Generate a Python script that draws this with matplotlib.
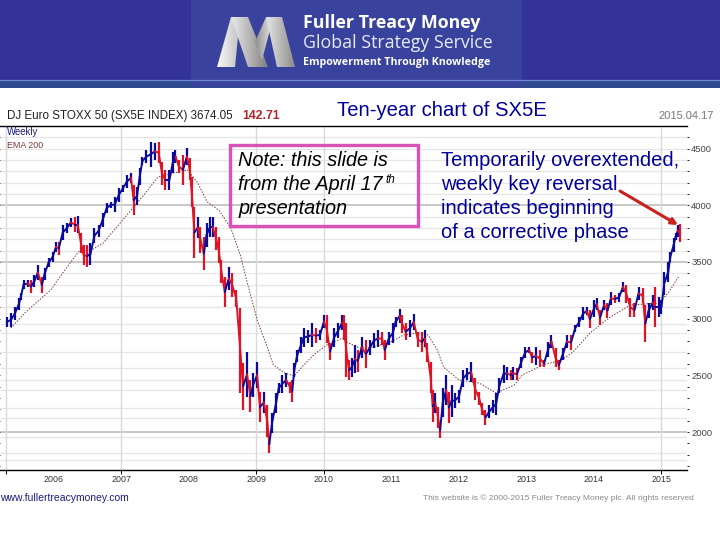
import numpy as np
import matplotlib
matplotlib.use("Agg")
import matplotlib.pyplot as plt
from matplotlib.patches import Polygon, Rectangle

#weekly bars (year, high, low)
bar_years = [2005.30, 2005.36, 2005.42, 2005.48, 2005.51, 2005.55, 2005.61, 2005.66, 2005.71, 2005.76, 2005.82, 2005.86, 2005.92, 2005.98,
    2006.03, 2006.07, 2006.13, 2006.19, 2006.25, 2006.31, 2006.35, 2006.40, 2006.44, 2006.49, 2006.54, 2006.60, 2006.66, 2006.72, 2006.78, 2006.84, 2006.90, 2006.96,
    2007.02, 2007.08, 2007.14, 2007.18, 2007.23, 2007.27, 2007.31, 2007.37, 2007.43, 2007.49, 2007.55, 2007.60, 2007.65, 2007.71, 2007.76, 2007.80, 2007.85, 2007.91, 2007.97,
    2008.01, 2008.04, 2008.08, 2008.13, 2008.17, 2008.22, 2008.26, 2008.31, 2008.35, 2008.40, 2008.44, 2008.48, 2008.53, 2008.59, 2008.64, 2008.70, 2008.76, 2008.80, 2008.86, 2008.91, 2008.95,
    2009.01, 2009.05, 2009.11, 2009.16, 2009.19, 2009.23, 2009.29, 2009.33, 2009.38, 2009.44, 2009.50, 2009.53, 2009.56, 2009.60, 2009.66, 2009.70, 2009.76, 2009.82, 2009.88, 2009.94,
    2010.00, 2010.04, 2010.09, 2010.15, 2010.21, 2010.27, 2010.30, 2010.33, 2010.37, 2010.41, 2010.46, 2010.50, 2010.56, 2010.62, 2010.68, 2010.74, 2010.80, 2010.86, 2010.90, 2010.96,
    2011.02, 2011.06, 2011.12, 2011.16, 2011.21, 2011.27, 2011.33, 2011.39, 2011.45, 2011.49, 2011.53, 2011.58, 2011.61, 2011.65, 2011.69, 2011.72, 2011.76, 2011.81, 2011.85, 2011.89, 2011.94,
    2012.00, 2012.06, 2012.12, 2012.18, 2012.24, 2012.30, 2012.34, 2012.39, 2012.45, 2012.51, 2012.55, 2012.60, 2012.66, 2012.71, 2012.77, 2012.80, 2012.86, 2012.92, 2012.98,
    2013.04, 2013.08, 2013.14, 2013.20, 2013.26, 2013.32, 2013.37, 2013.43, 2013.48, 2013.54, 2013.60, 2013.66, 2013.72, 2013.78, 2013.84, 2013.89, 2013.94,
    2014.00, 2014.04, 2014.09, 2014.15, 2014.20, 2014.25, 2014.31, 2014.37, 2014.43, 2014.48, 2014.54, 2014.60, 2014.66, 2014.72, 2014.76, 2014.81, 2014.87, 2014.91, 2014.96,
    2015.00, 2015.04, 2015.10, 2015.13, 2015.18, 2015.21, 2015.24, 2015.27]
bar_highs = [3014, 3050, 3102, 3182, 3226, 3341, 3341, 3341, 3385, 3473, 3367, 3446, 3535, 3588,
    3676, 3676, 3826, 3843, 3887, 3896, 3905, 3755, 3649, 3649, 3667, 3799, 3826, 3932, 4020, 4029, 4073, 4152,
    4179, 4267, 4284, 4179, 4161, 4328, 4426, 4487, 4558, 4549, 4558, 4381, 4311, 4311, 4470, 4487, 4399, 4443, 4505,
    4417, 4249, 3985, 3896, 3808, 3720, 3843, 3896, 3896, 3808, 3720, 3517, 3367, 3455, 3402, 3252, 3094, 2609, 2706, 2459, 2520,
    2617, 2353, 2353, 2238, 1974, 2168, 2344, 2432, 2503, 2520, 2441, 2459, 2609, 2723, 2838, 2917, 2900, 2961, 2917, 2900,
    3032, 3032, 2785, 2917, 2961, 3032, 3032, 2961, 2635, 2653, 2767, 2723, 2838, 2811, 2811, 2873, 2900, 2882, 2811, 2882,
    2961, 3014, 3085, 3032, 2961, 2988, 3041, 2882, 2882, 2900, 2785, 2617, 2370, 2344, 2220, 2079, 2388, 2503, 2353, 2415, 2344,
    2370, 2547, 2564, 2617, 2476, 2353, 2256, 2194, 2238, 2282, 2344, 2476, 2591, 2573, 2547, 2573, 2564, 2662, 2750,
    2750, 2706, 2750, 2723, 2635, 2794, 2855, 2741, 2635, 2741, 2855, 2855, 2944, 3014, 3102, 3102, 3076,
    3164, 3182, 3076, 3164, 3138, 3235, 3208, 3226, 3323, 3297, 3182, 3138, 3279, 3270, 3120, 3138, 3208, 3279, 3191,
    3164, 3411, 3499, 3588, 3711, 3755, 3826, 3835]
bar_lows = [2926, 2926, 2988, 3076, 3164, 3261, 3279, 3226, 3279, 3341, 3226, 3341, 3455, 3499,
    3588, 3561, 3693, 3755, 3808, 3764, 3755, 3579, 3473, 3455, 3473, 3667, 3720, 3808, 3932, 3976, 3940, 4029,
    4117, 4152, 4196, 3914, 4002, 4179, 4355, 4373, 4337, 4399, 4373, 4179, 4134, 4134, 4284, 4373, 4284, 4179, 4355,
    4223, 3985, 3535, 3711, 3579, 3429, 3632, 3720, 3720, 3605, 3491, 3314, 3103, 3252, 3191, 3103, 2344, 2194, 2309, 2176, 2309,
    2388, 2088, 2168, 1956, 1815, 1991, 2168, 2344, 2344, 2397, 2344, 2265, 2485, 2617, 2697, 2750, 2785, 2750, 2785, 2811,
    2917, 2785, 2635, 2750, 2829, 2900, 2811, 2485, 2459, 2485, 2520, 2529, 2653, 2564, 2679, 2741, 2750, 2767, 2635, 2767,
    2785, 2926, 2961, 2873, 2811, 2838, 2900, 2750, 2706, 2750, 2617, 2344, 2088, 2168, 2035, 1947, 2132, 2238, 2079, 2132, 2212,
    2256, 2397, 2459, 2441, 2282, 2238, 2150, 2062, 2123, 2168, 2150, 2344, 2432, 2459, 2459, 2459, 2459, 2564, 2653,
    2697, 2609, 2591, 2573, 2573, 2662, 2741, 2573, 2547, 2635, 2741, 2723, 2882, 2926, 2988, 3032, 2917,
    3014, 3076, 2944, 3076, 3005, 3120, 3138, 3147, 3235, 3138, 3014, 3014, 3164, 3138, 2794, 3005, 3076, 2926, 3014,
    3041, 3208, 3323, 3499, 3588, 3693, 3720, 3676]

#moving average line
ema_years = [2005.36, 2005.58, 2005.80, 2005.95, 2006.14, 2006.36, 2006.58, 2006.73, 2006.98, 2007.18, 2007.33, 2007.54, 2007.77, 2007.98,
    2008.13, 2008.27, 2008.44, 2008.62, 2008.76, 2008.88, 2009.01, 2009.16, 2009.25, 2009.42, 2009.56, 2009.70, 2009.88,
    2010.04, 2010.28, 2010.33, 2010.53, 2010.72, 2010.96, 2011.18, 2011.38, 2011.54, 2011.68, 2011.77,
    2012.00, 2012.30, 2012.55, 2012.82, 2012.94, 2013.24, 2013.52, 2013.69, 2013.94, 2014.24, 2014.54, 2014.96, 2015.10, 2015.25]
ema_values = [2917, 3058, 3173, 3252, 3411, 3588, 3614, 3667, 3843, 3985, 4090, 4249, 4284, 4311,
    4196, 4029, 3958, 3799, 3561, 3279, 2988, 2750, 2591, 2520, 2494, 2591, 2697,
    2767, 2829, 2794, 2741, 2750, 2785, 2856, 2873, 2856, 2723, 2573,
    2459, 2432, 2344, 2415, 2503, 2591, 2635, 2706, 2873, 3014, 3120, 3138, 3226, 3367]

year_ticks = [2006, 2007, 2008, 2009, 2010, 2011, 2012, 2013, 2014, 2015]
year_grid = [2005.29, 2007, 2009, 2010, 2015]
y_ticks = [2000, 2500, 3000, 3500, 4000, 4500]
grid_major = [2000, 3500, 4000]
grid_minor = [1753, 1815, 1956, 2123, 2212, 2370, 2459, 2564, 2706, 2873, 2953, 3100, 3200, 3300, 3400, 3600, 3700, 3800, 3900,
    4100, 4200, 4300, 4400, 4500, 4600]

blue = "#0a0a9c"
red = "#dd1425"
text_blue = "#000099"
plt.rcParams["font.family"] = ["Liberation Sans", "DejaVu Sans"]

fig = plt.figure(figsize=(7.2, 5.4), dpi=100, facecolor="white")

#price chart
ax = fig.add_axes([0, 70 / 540, 687 / 720, 344 / 540])
ax.set_xlim(2005.2, 2015.378)
ax.set_ylim(1665, 4699)
ax.hlines(grid_minor, 2005.2, 2015.378, color="#e6e6e6", lw=0.9, zorder=0)
ax.hlines(grid_major, 2005.2, 2015.378, color="#bdbdbd", lw=1.2, zorder=0)
ax.vlines(year_grid, 1665, 4699, color="#d9d9d9", lw=1.0, zorder=0)

mids = (np.array(bar_highs) + np.array(bar_lows)) / 2
bar_colors = [blue if i == 0 or mids[i] >= mids[i - 1] else red for i in range(len(mids))]
ax.vlines(bar_years, bar_lows, bar_highs, colors=bar_colors, lw=1.6, zorder=3)
#join the bars so the trace stays solid like the weekly original
for i in range(1, len(mids)):
    ax.plot(bar_years[i - 1:i + 1], mids[i - 1:i + 1], color=bar_colors[i], lw=1.4, zorder=3, solid_capstyle="round")
ax.plot(ema_years, ema_values, color="#7a3a3a", lw=0.7, ls=(0, (1.5, 1.5)), zorder=2)

ax.spines["left"].set_visible(False)
ax.spines["right"].set_visible(False)
ax.spines["top"].set_linewidth(1.0)
ax.spines["bottom"].set_linewidth(1.0)
ax.set_xticks(year_grid)
ax.set_xticklabels([])
ax.tick_params(axis="x", length=3, width=0.7, color="black")
ax.yaxis.tick_right()
ax.set_yticks(y_ticks)
ax.set_yticklabels([str(v) for v in y_ticks], fontsize=6.8, color="#444444")
ax.set_yticks(np.arange(1700, 4700, 100), minor=True)
ax.tick_params(axis="y", which="both", length=1.5, width=0.7, color="#222222", pad=1.5, left=True, right=True)
for yr in year_ticks:
    ax.annotate(str(yr), (yr, 1665), xytext=(0, -9), textcoords="offset pixels", ha="center", va="center",
                fontsize=6.4, color="#333333", annotation_clip=False)

#everything else on a pixel layer
deco = fig.add_axes([0, 0, 1, 1], zorder=5)
deco.set_xlim(0, 720)
deco.set_ylim(540, 0)
deco.axis("off")
deco.patch.set_alpha(0)

#banner
deco.add_patch(Rectangle((0, 0), 720, 88, fc="#333399", ec="none"))
deco.add_patch(Rectangle((0, 80), 720, 8, fc="#2f4a8c", ec="none"))
deco.plot([0, 720], [80, 80], color="#6f86d6", lw=0.9)
deco.add_patch(Rectangle((191, 0), 331, 87, fc="#39429c", ec="none"))


def ribbon(pts, left, right):
    #gradient filled piece of the logo
    xs = [p[0] for p in pts]
    ys = [p[1] for p in pts]
    grad = np.linspace(left, right, 64).reshape(1, -1)
    im = deco.imshow(grad, extent=(min(xs), max(xs), max(ys), min(ys)), cmap="gray", vmin=0, vmax=1,
                     aspect="auto", zorder=3)
    im.set_clip_path(Polygon(pts, closed=True, transform=deco.transData))


ribbon([(217, 67), (231, 17), (240, 17), (235, 67)], 0.98, 0.75)
ribbon([(231, 17), (248, 17), (268, 67), (248, 67)], 0.92, 0.50)
ribbon([(255, 42), (266, 17), (270, 30), (262, 60)], 0.55, 0.85)
ribbon([(266, 17), (282, 17), (295, 67), (277, 67)], 0.90, 0.55)
deco.set_xlim(0, 720)
deco.set_ylim(540, 0)

deco.text(303, 23, "Fuller Treacy Money", color="white", fontsize=12.8, fontweight="bold", family="Open Sans", va="center")
deco.text(303, 43, "Global Strategy Service", color="#e8ecf8", fontsize=12.8, family="Open Sans", va="center")
deco.text(303, 62, "Empowerment Through Knowledge", color="white", fontsize=7.7, fontweight="bold", family="Open Sans", va="center")

#chart heading
deco.text(7, 116, "DJ Euro STOXX 50 (SX5E INDEX) 3674.05", color="#222222", fontsize=8.4, va="center")
deco.text(242, 116, "142.71", color="#b5232a", fontsize=8.8, fontweight="bold", va="center")
deco.text(658, 116, "2015.04.17", color="#777777", fontsize=8, va="center")
deco.text(337, 111, "Ten-year chart of SX5E", color=text_blue, fontsize=14.6, va="center")
deco.text(7, 132, "Weekly", color="#1a1a80", fontsize=6.9, va="center")
deco.text(7, 146, "EMA 200", color="#7a3a3a", fontsize=6.4, va="center")

#note box
deco.add_patch(Rectangle((230, 145), 188, 81, fc="none", ec="#d952b8", lw=2.4))
deco.text(238, 161, "Note: this slide is", style="italic", color="black", fontsize=14.3, va="center")
deco.text(238, 185, "from the April 17", style="italic", color="black", fontsize=14.3, va="center")
deco.text(385, 180, "th", style="italic", color="black", fontsize=8.5, va="center")
deco.text(238, 209, "presentation", style="italic", color="black", fontsize=14.3, va="center")

#comment on the right
for y_px, line in zip([161, 185, 209, 233], ["Temporarily overextended,", "weekly key reversal",
                                             "indicates beginning", "of a corrective phase"]):
    deco.text(441, y_px, line, color=text_blue, fontsize=14.5, va="center")
deco.annotate("", xy=(678, 225), xytext=(620, 191),
              arrowprops=dict(arrowstyle="-|>", color="#c92020", lw=2.2, mutation_scale=9, shrinkA=0, shrinkB=0))

#footer
deco.text(0, 498, "www.fullertreacymoney.com", color="#1a1a80", fontsize=7.5, va="center")
deco.text(423, 498, "This website is © 2000-2015 Fuller Treacy Money plc. All rights reserved", color="#888888",
          fontsize=6, va="center")

fig.savefig("out.png", dpi=100)
